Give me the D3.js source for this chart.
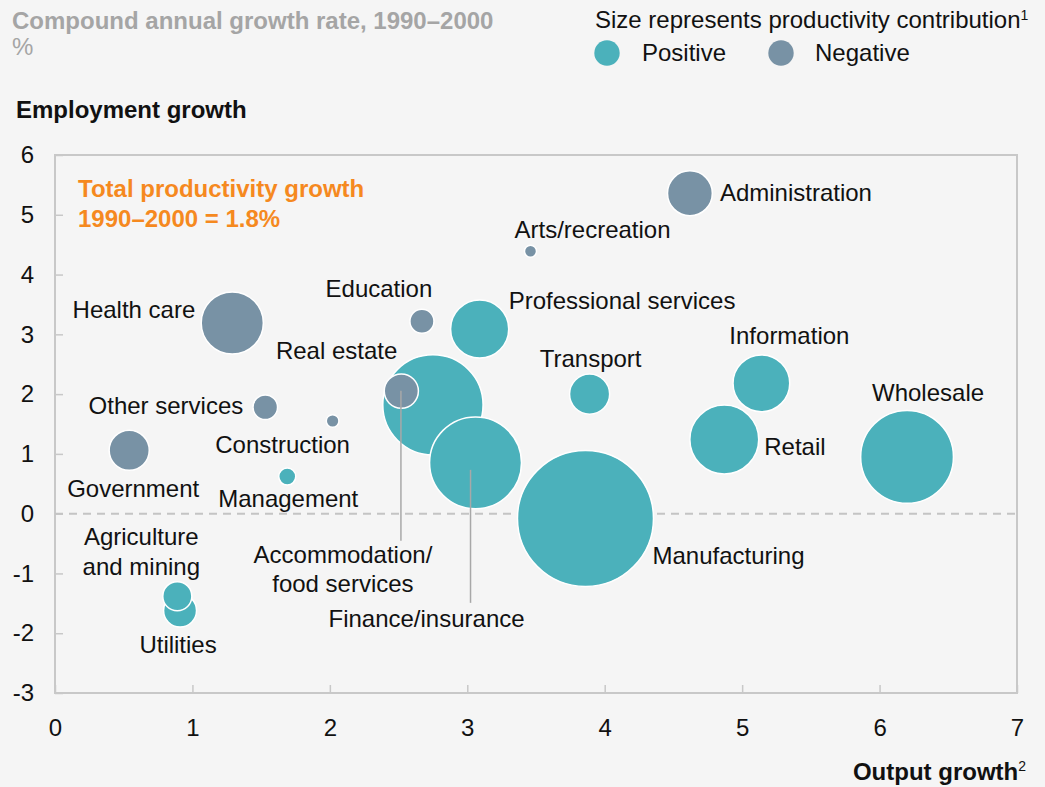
<!DOCTYPE html>
<meta charset="utf-8">
<style>
body {
  margin: 0;
  background: #f5f5f5;
  font-family: "Liberation Sans", Arial, sans-serif;
}
svg text {
  font-family: "Liberation Sans", Arial, sans-serif;
}
.axis text {
  font-size: 24px;
  fill: #111;
}
.axis line {
  stroke: #c8c8c8;
  stroke-width: 1.5;
}
.axis path {
  display: none;
}
.lbl {
  font-size: 24px;
  fill: #111;
}
</style>
<body>
<svg width="1045" height="787"></svg>
<script src="https://cdn.jsdelivr.net/npm/d3@7"></script>
<script>

// data
var sectors = ["Administration", "Arts/recreation", "Education", "Professional services",
  "Health care", "Real estate", "Accommodation/food services", "Finance/insurance",
  "Transport", "Manufacturing", "Information", "Retail", "Wholesale", "Other services",
  "Construction", "Government", "Management", "Agriculture and mining", "Utilities"];
var outputGrowth = [4.62, 3.46, 2.67, 3.09, 1.29, 2.52, 2.75, 3.06, 3.89, 3.86, 5.14, 4.87, 6.20,
  1.53, 2.02, 0.54, 1.69, 0.89, 0.91];
var employmentGrowth = [5.36, 4.39, 3.22, 3.09, 3.19, 2.05, 1.82, 0.85, 2.00, -0.08, 2.18, 1.24, 0.95,
  1.78, 1.55, 1.06, 0.62, -1.38, -1.62];
// productivity contribution (sign = colour, size = magnitude)
var contribution = [-0.050, -0.0036, -0.0144, 0.084, -0.096, -0.029, 0.25, 0.21, 0.04, 0.46, 0.08,
  0.118, 0.214, -0.015, -0.004, -0.04, 0.0072, 0.021, 0.027];
var xTicks = [0, 1, 2, 3, 4, 5, 6, 7];
var yTicks = [-3, -2, -1, 0, 1, 2, 3, 4, 5, 6];

// label placement relative to bubble centre
var labelLayout = {
  "Administration": {dx: 30, dy: 8, anchor: "start"},
  "Arts/recreation": {dx: 62, dy: -13, anchor: "middle"},
  "Education": {dx: -43, dy: -24, anchor: "middle"},
  "Professional services": {dx: 29, dy: -20, anchor: "start"},
  "Health care": {dx: -37, dy: -5, anchor: "end"},
  "Real estate": {dx: -4, dy: -32, anchor: "end"},
  "Accommodation/food services": {dx: -90, dy: 158, anchor: "middle", lines: ["Accommodation/", "food services"],
    leader: {dx: -32, y1: -14, y2: 136}},
  "Finance/insurance": {dx: -49, dy: 164, anchor: "middle", leader: {dx: -5, y1: 7, y2: 140}},
  "Transport": {dx: 1, dy: -27, anchor: "middle"},
  "Manufacturing": {dx: 67, dy: 46, anchor: "start"},
  "Information": {dx: 28, dy: -39, anchor: "middle"},
  "Retail": {dx: 40, dy: 15, anchor: "start"},
  "Wholesale": {dx: 21, dy: -56, anchor: "middle"},
  "Other services": {dx: -22, dy: 7, anchor: "end"},
  "Construction": {dx: -50, dy: 32, anchor: "middle"},
  "Government": {dx: 70, dy: 47, anchor: "end"},
  "Management": {dx: 1, dy: 30, anchor: "middle"},
  "Agriculture and mining": {dx: -36, dy: -51, anchor: "middle", lines: ["Agriculture", "and mining"]},
  "Utilities": {dx: -2, dy: 42, anchor: "middle"}
};

var posColor = "#4bb1bb", negColor = "#7892a5";

var data = sectors.map(function(s, i) {
  return {name: s, x: outputGrowth[i], y: employmentGrowth[i], c: contribution[i]};
});

var svg = d3.select("svg");
var plotLeft = 55, plotRight = 1017, plotTop = 155, plotBottom = 693;

var x = d3.scaleLinear().domain([0, 7]).range([plotLeft, plotRight]);
var y = d3.scaleLinear().domain([-3, 6]).range([plotBottom, plotTop]);
var r = d3.scaleSqrt().domain([0, 0.46]).range([0, 68]);

// titles
svg.append("text").attr("x", 12).attr("y", 29)
  .style("font-size", "24px").style("font-weight", "bold").style("fill", "#a5a5a5")
  .text("Compound annual growth rate, 1990\u20132000");
svg.append("text").attr("x", 12).attr("y", 55)
  .style("font-size", "24px").style("fill", "#a5a5a5").text("%");
svg.append("text").attr("x", 16).attr("y", 118)
  .style("font-size", "24px").style("font-weight", "bold").style("fill", "#111")
  .text("Employment growth");

// legend
var lg = svg.append("g");
lg.append("text").attr("x", 595).attr("y", 28).attr("class", "lbl")
  .text("Size represents productivity contribution")
  .append("tspan").attr("dy", -8).style("font-size", "14px").text("1");
lg.append("circle").attr("cx", 607).attr("cy", 53).attr("r", 12.7).attr("fill", posColor);
lg.append("text").attr("x", 642).attr("y", 61).attr("class", "lbl").text("Positive");
lg.append("circle").attr("cx", 781).attr("cy", 53).attr("r", 12.7).attr("fill", negColor);
lg.append("text").attr("x", 815).attr("y", 61).attr("class", "lbl").text("Negative");

// axes
svg.append("g").attr("class", "axis")
  .attr("transform", "translate(" + plotLeft + ",0)")
  .call(d3.axisLeft(y).tickValues(yTicks).tickSize(-8).tickPadding(21).tickFormat(function(d) { return String(d); }));

svg.append("g").attr("class", "axis")
  .attr("transform", "translate(0," + plotBottom + ")")
  .call(d3.axisBottom(x).tickValues(xTicks).tickSize(-8).tickPadding(26).tickFormat(function(d) { return String(d); }));

// frame
svg.append("rect").attr("x", plotLeft).attr("y", plotTop)
  .attr("width", plotRight - plotLeft).attr("height", plotBottom - plotTop)
  .attr("fill", "none").attr("stroke", "#c8c8c8").attr("stroke-width", 2);

// zero line
svg.append("line").attr("x1", plotLeft).attr("x2", plotRight)
  .attr("y1", y(0)).attr("y2", y(0))
  .attr("stroke", "#c4c4c4").attr("stroke-width", 2).attr("stroke-dasharray", "8,6");

svg.append("text").attr("x", 1026).attr("y", 780).attr("text-anchor", "end")
  .style("font-size", "24px").style("font-weight", "bold").style("fill", "#111")
  .text("Output growth")
  .append("tspan").attr("dy", -9).style("font-size", "14px").style("font-weight", "normal").text("2");

// annotation
svg.append("text").attr("x", 78).attr("y", 197)
  .style("font-size", "24px").style("font-weight", "bold").style("fill", "#f5891f")
  .text("Total productivity growth");
svg.append("text").attr("x", 78).attr("y", 227)
  .style("font-size", "24px").style("font-weight", "bold").style("fill", "#f5891f")
  .text("1990\u20132000 = 1.8%");

// bubbles, largest first
var sorted = data.slice().sort(function(a, b) { return Math.abs(b.c) - Math.abs(a.c); });
svg.append("g").selectAll("circle")
  .data(sorted)
  .enter().append("circle")
    .attr("cx", function(d) { return x(d.x); })
    .attr("cy", function(d) { return y(d.y); })
    .attr("r", function(d) { return r(Math.abs(d.c)); })
    .attr("fill", function(d) { return d.c >= 0 ? posColor : negColor; })
    .attr("stroke", "#fff")
    .attr("stroke-width", 1.5);

// leaders
data.forEach(function(d) {
  var L = labelLayout[d.name];
  if (L.leader) {
    svg.append("line")
      .attr("x1", x(d.x) + L.leader.dx).attr("x2", x(d.x) + L.leader.dx)
      .attr("y1", y(d.y) + L.leader.y1).attr("y2", y(d.y) + L.leader.y2)
      .attr("stroke", "#a8a8a8").attr("stroke-width", 1.5);
  }
});

// labels
data.forEach(function(d) {
  var L = labelLayout[d.name];
  var t = svg.append("text").attr("class", "lbl")
    .attr("text-anchor", L.anchor)
    .attr("x", x(d.x) + L.dx).attr("y", y(d.y) + L.dy);
  var lines = L.lines || [d.name];
  lines.forEach(function(s, i) {
    t.append("tspan").attr("x", x(d.x) + L.dx).attr("dy", i ? 29.5 : 0).text(s);
  });
});

</script>
</body>
